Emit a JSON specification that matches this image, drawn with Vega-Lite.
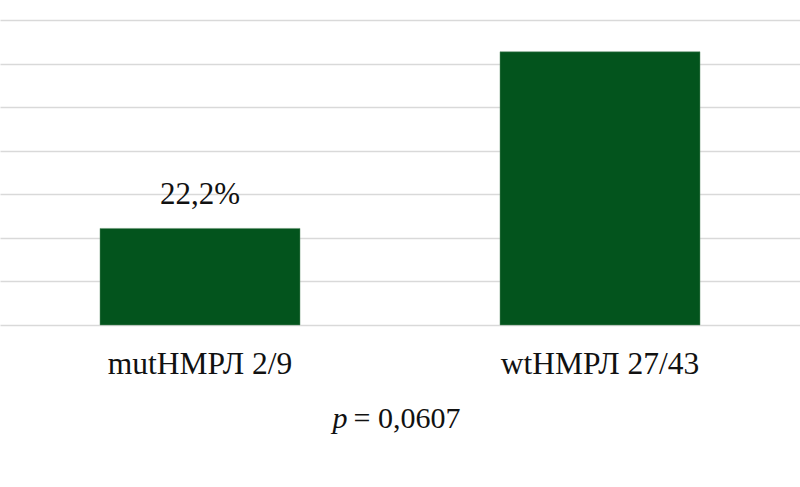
{
  "$schema": "https://vega.github.io/schema/vega-lite/v6.json",
  "width": 800,
  "height": 325,
  "padding": {"left": 0, "top": 0, "right": 0, "bottom": 162},
  "autosize": {"type": "none"},
  "background": "white",
  "config": {"view": {"stroke": null}, "font": "Liberation Serif"},
  "data": {"values": [
    {"group": "mutНМРЛ 2/9", "pct": 22.2, "label": "22,2%"},
    {"group": "wtНМРЛ 27/43", "pct": 62.8, "label": ""}
  ]},
  "resolve": {"axis": {"x": "independent"}},
  "encoding": {
    "y": {"field": "pct", "type": "quantitative",
      "scale": {"domain": [0, 74.7], "nice": false, "zero": true},
      "axis": {"title": null, "labels": false, "ticks": false, "domain": false,
        "values": [0, 10, 20, 30, 40, 50, 60, 70], "gridColor": "#d9d9d9", "gridWidth": 1.5}}
  },
  "layer": [
    {"mark": {"type": "bar", "color": "#03541d", "stroke": "#5e8f6a", "strokeWidth": 0.5},
      "encoding": {
        "x": {"field": "group", "type": "nominal", "sort": null,
          "scale": {"paddingInner": 0.5, "paddingOuter": 0.25},
          "axis": {"orient": "bottom", "title": "= 0,0607", "labelAngle": 0, "ticks": false, "domain": false, "labelLimit": 0,
            "labelFont": "Liberation Serif", "labelFontSize": 31.5, "labelColor": "#111111",
            "labelBaseline": "alphabetic", "labelPadding": 48,
            "titleFont": "Liberation Serif", "titleFontSize": 30, "titleFontWeight": "normal", "titleColor": "#111111",
            "titleAlign": "left", "titleAnchor": null, "titleBaseline": "alphabetic", "titleX": 353, "titleY": 102}}
      }},
    {"mark": {"type": "text", "font": "Liberation Serif", "fontSize": 31, "color": "#111111", "baseline": "alphabetic", "dy": -24},
      "encoding": {
        "x": {"field": "group", "type": "nominal", "sort": null,
          "scale": {"paddingInner": 0.5, "paddingOuter": 0.25},
          "axis": {"orient": "bottom", "title": "p", "labels": false, "ticks": false, "domain": false, "grid": false,
            "titleFont": "Liberation Serif", "titleFontSize": 30, "titleFontWeight": "normal", "titleFontStyle": "italic", "titleColor": "#111111",
            "titleAlign": "left", "titleAnchor": null, "titleBaseline": "alphabetic", "titleX": 332, "titleY": 102}},
        "text": {"field": "label"}}}
  ]
}
